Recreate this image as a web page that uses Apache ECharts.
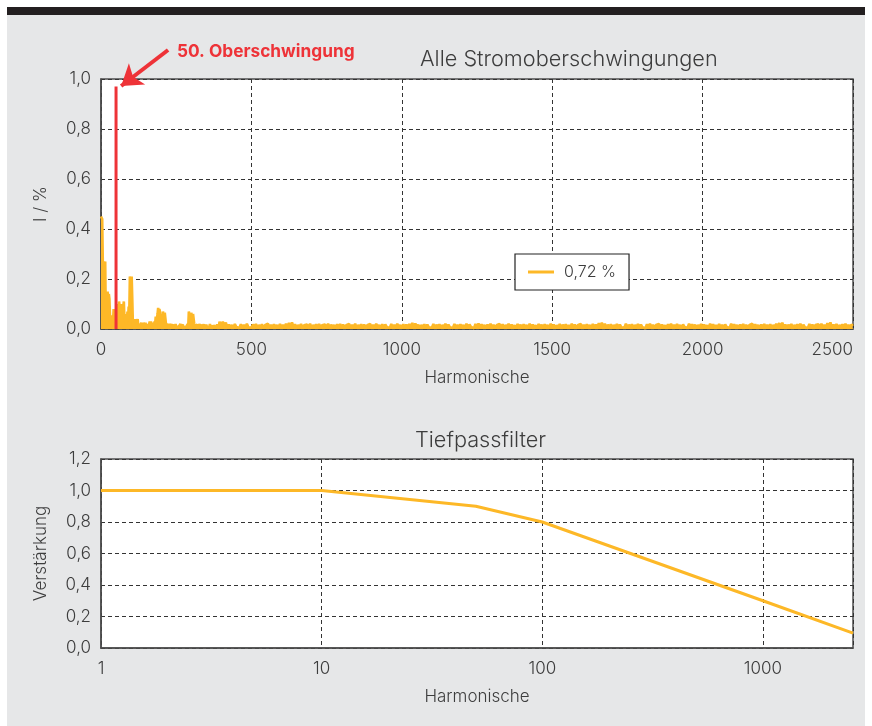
<!DOCTYPE html>
<html><head><meta charset="utf-8">
<script src="https://cdn.jsdelivr.net/npm/echarts@6/dist/echarts.min.js"></script>
<style>
html,body{margin:0;padding:0;background:#fff;width:872px;height:726px;overflow:hidden}
#panel{position:absolute;left:7px;top:7px;width:858px;height:719px;background:#e6e7e8;border-top:8px solid #231f20;box-sizing:border-box}
#chart{position:absolute;left:0;top:0;width:872px;height:726px}
</style></head><body><div id="panel"></div><div id="chart"></div>
<script>
// ---- Spectrum (top chart): harmonic order -> current in %
const headStart = 0, headStep = 2;   // harmonics 0..398
const headValues = [
 .45,.45,.44,.27,.26,.27,.25,.27,.03,.08,
 .02,.15,.06,.14,.12,.05,.02,.055,.01,.04,
 .03,.08,.04,.07,.02,.01,.04,.02,.10,.05,
 .11,.09,.10,.04,.10,.06,.10,.09,.11,.03,
 .05,.02,.06,.03,.07,.04,.09,.06,.21,.20,
 .18,.21,.12,.02,.01,.02,.005,.04,.01,.035,
 .02,.04,.01,.02,.005,.015,.01,.025,.005,.02,
 .01,.025,.03,.01,.025,.005,.02,.01,.015,.005,
 .02,.03,.01,.03,.015,.025,.005,.02,.01,.03,
 .02,.05,.02,.04,.06,.085,.05,.08,.07,.03,
 .06,.02,.035,.07,.065,.03,.065,.06,.02,.01,
 .015,.005,.02,.01,.015,.004,.02,.008,.012,.003,
 .018,.006,.015,.004,.02,.01,.014,.005,.018,.008,
 .012,.004,.02,.007,.015,.003,.018,.009,.013,.005,
 .017,.006,.012,.004,.019,.008,.07,.065,.07,.04,
 .065,.06,.03,.06,.055,.02,.01,.005,.015,.004,
 .018,.006,.014,.003,.02,.008,.013,.005,.017,.004,
 .012,.019,.006,.015,.004,.018,.009,.013,.003,.016,
 .007,.02,.005,.014,.01,.018,.004,.015,.008,.019,
 .006,.013,.004,.017,.009,.02,.005,.03,.012,.028
];
const tailStart = 400, tailStep = 5; // harmonics 400..2500
const tailValues = [
 .006,.030,.010,.026,.004,.018,.007,.016,.003,.020,.008,.015,.004,.019,.006,.017,.002,.021,.007,.014,
 .005,.018,.008,.020,.003,.016,.006,.019,.004,.015,.009,.021,.005,.017,.003,.019,.007,.016,.004,.020,
 .006,.017,.003,.021,.008,.024,.005,.027,.007,.019,.004,.016,.006,.020,.003,.015,.008,.018,.005,.021,
 .004,.016,.007,.019,.003,.020,.006,.015,.008,.018,.004,.021,.005,.017,.007,.016,.003,.019,.006,.020,
 .005,.018,.003,.015,.008,.020,.004,.017,.006,.021,.003,.016,.007,.019,.005,.018,.004,.015,.008,.020,
 .006,.017,.004,.021,.007,.016,.003,.019,.005,.018,.008,.015,.004,.020,.006,.017,.003,.021,.007,.016,
 .004,.019,.006,.018,.003,.020,.007,.024,.005,.022,.008,.017,.004,.016,.006,.019,.003,.018,.007,.015,
 .005,.020,.004,.017,.008,.019,.003,.016,.006,.021,.005,.018,.007,.015,.004,.020,.006,.017,.003,.019,
 .007,.016,.004,.021,.005,.018,.008,.015,.003,.020,.006,.022,.004,.019,.007,.016,.005,.018,.003,.021,
 .006,.017,.004,.015,.008,.020,.005,.019,.003,.016,.007,.021,.004,.018,.006,.015,.003,.020,.008,.017,
 .004,.019,.006,.016,.003,.021,.007,.018,.005,.015,.004,.020,.008,.017,.003,.019,.006,.016,.005,.021,
 .007,.018,.003,.015,.006,.020,.004,.017,.008,.019,.005,.016,.003,.021,.006,.018,.004,.015,.007,.020,
 .005,.017,.003,.019,.006,.016,.004,.020,.007,.018,.005,.023,.004,.026,.006,.021,.003,.017,.007,.019,
 .004,.016,.006,.020,.003,.018,.007,.015,.005,.021,.004,.017,.008,.019,.003,.016,.006,.020,.004,.018,
 .007,.015,.003,.019,.005,.021,.006,.017,.004,.016,.008,.020,.003,.018,.006,.015,.004,.019,.007,.021,
 .005,.017,.003,.020,.006,.016,.004,.018,.008,.015,.005,.021,.003,.019,.007,.017,.004,.016,.006,.020,
 .003,.018,.006,.015,.004,.021,.007,.019,.005,.016,.003,.020,.006,.017,.004,.018,.008,.015,.005,.021,
 .004,.019,.007,.016,.003,.018,.005,.020,.006,.017,.004,.015,.008,.021,.003,.019,.006,.016,.004,.018,
 .007,.020,.003,.017,.005,.019,.004,.016,.006,.021,.008,.024,.004,.026,.006,.018,.003,.017,.007,.020,
 .004,.016,.006,.019,.003,.021,.005,.017,.007,.015,.004,.020,.006,.018,.003,.016,.008,.019,.005,.021,
 .006,.017,.004,.023,.007,.027,.003,.018,.005,.020,.004,.016,.007,.019,.003,.021,.006,.017,.004,.018,
 .012
];
const spectrumName = '0,72 %';

// ---- Highlighted 50th harmonic
const markedHarmonic = 50;
const markedValue = 0.97;
const markerLabel = '50. Oberschwingung';
const arrowFrom = [223, 1.116];   // data coords (harmonic, %) on the annotation layer
const arrowTo = [67, 0.972];
const labelAnchor = [239, 1.108];

// ---- Low-pass filter (bottom chart)
const lpHarmonics = [1, 10, 50, 100, 1000, 2560];
const lpGain = [1.0, 1.0, 0.9, 0.8, 0.3, 0.094];

// ---- Axis settings
const topX = {min: 0, max: 2500, interval: 500};
const topY = {min: 0, max: 1.0, interval: 0.2};
const annY = {min: 0, max: 1.2};
const botX = {min: 1, max: 2560};
const botY = {min: 0, max: 1.2, interval: 0.2};

const spectrum = [];
headValues.forEach((v, i) => spectrum.push([headStart + i * headStep, v]));
tailValues.forEach((v, i) => spectrum.push([tailStart + i * tailStep, v]));
const lowpass = lpHarmonics.map((h, i) => [h, lpGain[i]]);
const markerLine = [[markedHarmonic, 0], [markedHarmonic, markedValue]];

const FONT = 'Inter, Lato, sans-serif';
const TXT = '#3d3d3d';
const YEL = '#fdb827';
const RED = '#ee3338';
const AX = '#4d4d4d';
const fmt1 = v => v.toFixed(1).replace('.', ',');
const fmtInt = v => String(Math.round(v));

function lbl(extra) {
  return Object.assign({fontSize: 17, color: TXT, fontFamily: FONT, fontWeight: 300}, extra);
}
function xAxisBase(extra) {
  return Object.assign({
    name: 'Harmonische', nameLocation: 'middle', nameGap: 40,
    nameTextStyle: {fontSize: 17, color: TXT, fontFamily: FONT, fontWeight: 300},
    axisLine: {show: true, lineStyle: {color: AX, width: 1.5}},
    axisTick: {show: false},
    splitLine: {show: true, lineStyle: {color: '#333', type: [4, 3], width: 1}}
  }, extra);
}
function yAxisBase(extra) {
  return Object.assign({
    type: 'value', nameLocation: 'middle', nameGap: 52,
    nameTextStyle: {fontSize: 17, color: TXT, fontFamily: FONT, fontWeight: 300},
    axisLine: {show: true, lineStyle: {color: AX, width: 1.5}},
    axisTick: {show: false},
    axisLabel: lbl({margin: 10, formatter: fmt1}),
    splitLine: {show: true, lineStyle: {color: '#333', type: [4, 3], width: 1}}
  }, extra);
}

const chart = echarts.init(document.getElementById('chart'), null, {renderer: 'canvas'});
chart.setOption({
  animation: false,
  backgroundColor: 'transparent',
  textStyle: {fontFamily: FONT},
  title: [
    {text: 'Alle Stromoberschwingungen', left: 415, top: 43,
     textStyle: {fontSize: 21.7, fontWeight: 300, color: TXT, fontFamily: FONT}},
    {text: 'Tiefpassfilter', left: 410, top: 424,
     textStyle: {fontSize: 21.7, fontWeight: 300, color: TXT, fontFamily: FONT}}
  ],
  legend: {
    data: [spectrumName], left: 515, top: 254,
    backgroundColor: '#fff', borderColor: '#222', borderWidth: 1.2, borderRadius: 0,
    padding: [10, 13, 10, 13], itemWidth: 26, itemHeight: 3, icon: 'rect', itemGap: 10,
    textStyle: {fontSize: 16, color: TXT, fontFamily: FONT, fontWeight: 300, padding: [0, 0, 0, 5]}
  },
  grid: [
    {left: 101, top: 79, width: 752, height: 250, show: true, backgroundColor: '#fff', borderColor: AX, borderWidth: 1.5},
    {left: 101, top: 459, width: 752, height: 189, show: true, backgroundColor: '#fff', borderColor: AX, borderWidth: 1.5},
    {left: 101, top: 29, width: 752, height: 300, show: false}
  ],
  xAxis: [
    xAxisBase({type: 'value', gridIndex: 0, min: topX.min, max: topX.max, interval: topX.interval,
      axisLabel: lbl({margin: 12, formatter: fmtInt, alignMaxLabel: 'right'})}),
    xAxisBase({type: 'log', logBase: 10, gridIndex: 1, min: botX.min, max: botX.max,
      axisLabel: lbl({margin: 12, formatter: fmtInt, showMaxLabel: false})}),
    {type: 'value', gridIndex: 2, min: topX.min, max: topX.max, show: false}
  ],
  yAxis: [
    yAxisBase({gridIndex: 0, name: 'I / %', min: topY.min, max: topY.max, interval: topY.interval}),
    yAxisBase({gridIndex: 1, name: 'Verstärkung', min: botY.min, max: botY.max, interval: botY.interval}),
    {type: 'value', gridIndex: 2, min: annY.min, max: annY.max, show: false}
  ],
  series: [
    {name: spectrumName, type: 'line', xAxisIndex: 0, yAxisIndex: 0, data: spectrum,
     showSymbol: false, symbol: 'none', lineStyle: {width: 2.6, color: YEL}, itemStyle: {color: YEL},
     areaStyle: {color: YEL, opacity: 1}, z: 2},
    {name: 'marker', type: 'line', xAxisIndex: 2, yAxisIndex: 2, data: markerLine, clip: false,
     showSymbol: false, symbol: 'none', lineStyle: {width: 3, color: RED}, itemStyle: {color: RED}, z: 3,
     markLine: {silent: true, symbol: ['none', 'arrow'], symbolSize: 20,
       lineStyle: {color: RED, width: 4, type: 'solid'}, label: {show: false},
       data: [[{coord: arrowFrom}, {coord: arrowTo}]]},
     markPoint: {silent: true, symbol: 'circle', symbolSize: 0,
       data: [{coord: labelAnchor, value: markerLabel}],
       label: {show: true, position: 'right', distance: 4, formatter: markerLabel,
         color: RED, fontSize: 17.3, fontWeight: 'bold', fontFamily: FONT}}},
    {name: 'Tiefpass', type: 'line', xAxisIndex: 1, yAxisIndex: 1, data: lowpass,
     showSymbol: false, symbol: 'none', lineStyle: {width: 3, color: YEL}, itemStyle: {color: YEL}}
  ]
});
</script></body></html>
